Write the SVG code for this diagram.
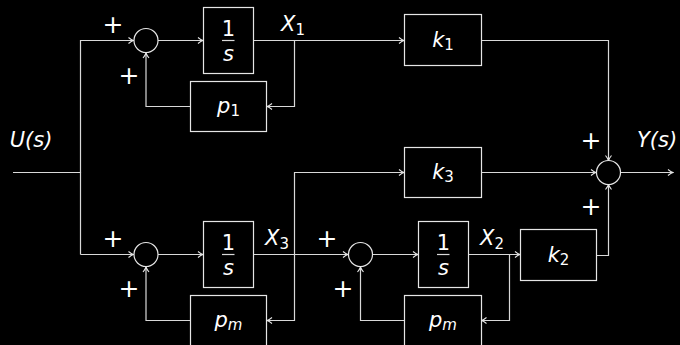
<svg xmlns="http://www.w3.org/2000/svg" width="680" height="345" viewBox="0 0 680 345">
<defs>
<style>
.bg{fill:#000}
.blk{fill:#000;stroke:#e6e6e6;stroke-width:1.2}
.ln{fill:none;stroke:#d9d9d9;stroke-width:1.2}
.t{font-family:"DejaVu Sans",sans-serif;font-size:21px;fill:#fff;font-style:oblique;text-anchor:middle}
.n{font-family:"DejaVu Sans",sans-serif;font-size:21px;fill:#fff;text-anchor:middle}
.pl{font-family:"DejaVu Sans",sans-serif;font-size:25px;fill:#ffffff;text-anchor:middle}
.sub{font-style:normal;font-size:15px}
.subi{font-size:15px}
</style>
<marker id="a" viewBox="-7 -4 8 8" refX="0" refY="0" markerWidth="8" markerHeight="8" markerUnits="userSpaceOnUse" orient="auto">
<path d="M-5,-3 Q-2,-0.6 0,0 Q-2,0.6 -5,3" fill="none" stroke="#e6e6e6" stroke-width="1.1"/>
</marker>
</defs>
<rect class="bg" x="0" y="0" width="680" height="345"/>
<g id="connectors">
<path class="ln" d="M13,172.5 H80.5 V254.5"/>
<path class="ln" marker-end="url(#a)" d="M80.5,172.5 V40.5 H133.5"/>
<path class="ln" marker-end="url(#a)" d="M158,40.5 H203"/>
<path class="ln" marker-end="url(#a)" d="M253.5,40.5 H404"/>
<path class="ln" marker-end="url(#a)" d="M294.5,40.5 V106.5 H267"/>
<path class="ln" marker-end="url(#a)" d="M190.5,106.5 H146 V53"/>
<path class="ln" marker-end="url(#a)" d="M481.5,40.5 H608.5 V160.5"/>
<path class="ln" marker-end="url(#a)" d="M620.5,172.5 H673"/>
<path class="ln" marker-end="url(#a)" d="M294.5,254.5 V172.5 H404"/>
<path class="ln" marker-end="url(#a)" d="M481.5,172.5 H596"/>
<path class="ln" marker-end="url(#a)" d="M80.5,254.5 H133.5"/>
<path class="ln" marker-end="url(#a)" d="M158,254.5 H203"/>
<path class="ln" marker-end="url(#a)" d="M253.5,254.5 H348"/>
<path class="ln" marker-end="url(#a)" d="M294.5,254.5 V320.5 H267"/>
<path class="ln" marker-end="url(#a)" d="M190.5,320.5 H146 V267"/>
<path class="ln" marker-end="url(#a)" d="M372.5,254.5 H418"/>
<path class="ln" marker-end="url(#a)" d="M468.5,254.5 H520"/>
<path class="ln" marker-end="url(#a)" d="M509.5,254.5 V320.5 H481.5"/>
<path class="ln" marker-end="url(#a)" d="M404.5,320.5 H360.5 V267"/>
<path class="ln" marker-end="url(#a)" d="M596.5,255.5 H608.5 V184.5"/>
</g>
<g id="sum1"><circle class="blk" cx="146" cy="40.5" r="12"/></g>
<g id="sum3"><circle class="blk" cx="146" cy="254.5" r="12"/></g>
<g id="sum2"><circle class="blk" cx="360.5" cy="254.5" r="12"/></g>
<g id="sumout"><circle class="blk" cx="608.5" cy="172.5" r="12"/></g>
<g id="int1"><rect class="blk" x="203.5" y="7.5" width="50" height="66"/>
<text class="n" x="228.5" y="36">1</text><line class="ln" x1="222" y1="40.5" x2="234.5" y2="40.5"/><text class="t" x="228.5" y="61">s</text></g>
<g id="int3"><rect class="blk" x="203.5" y="221.5" width="50" height="66"/>
<text class="n" x="228.5" y="250">1</text><line class="ln" x1="222" y1="254.5" x2="234.5" y2="254.5"/><text class="t" x="228.5" y="275">s</text></g>
<g id="int2"><rect class="blk" x="418.5" y="221.5" width="50" height="66"/>
<text class="n" x="443.5" y="250">1</text><line class="ln" x1="437" y1="254.5" x2="449.5" y2="254.5"/><text class="t" x="443.5" y="275">s</text></g>
<g id="p1"><rect class="blk" x="190.5" y="81.5" width="76" height="50"/><text class="t" x="228.5" y="113">p<tspan class="sub" dy="3">1</tspan></text></g>
<g id="pm1"><rect class="blk" x="190.5" y="295.5" width="76" height="60"/><text class="t" x="228.5" y="327">p<tspan class="subi" dy="3">m</tspan></text></g>
<g id="pm2"><rect class="blk" x="404.5" y="295.5" width="77" height="60"/><text class="t" x="443" y="327">p<tspan class="subi" dy="3">m</tspan></text></g>
<g id="k1"><rect class="blk" x="404.5" y="14.5" width="77" height="51"/><text class="t" x="443" y="47">k<tspan class="sub" dy="3">1</tspan></text></g>
<g id="k3"><rect class="blk" x="404.5" y="147.5" width="77" height="50"/><text class="t" x="443" y="179">k<tspan class="sub" dy="3">3</tspan></text></g>
<g id="k2"><rect class="blk" x="520.5" y="229.5" width="76" height="51"/><text class="t" x="558.5" y="262">k<tspan class="sub" dy="3">2</tspan></text></g>
<g id="labels">
<text class="t" x="31" y="147">U(s)</text>
<text class="t" x="657" y="147">Y(s)</text>
<text class="t" x="293" y="31">X<tspan class="sub" dy="4">1</tspan></text>
<text class="t" x="277" y="245">X<tspan class="sub" dy="4">3</tspan></text>
<text class="t" x="492" y="245">X<tspan class="sub" dy="4">2</tspan></text>
<text class="pl" x="113" y="33">+</text>
<text class="pl" x="129" y="84">+</text>
<text class="pl" x="113" y="247">+</text>
<text class="pl" x="129" y="297">+</text>
<text class="pl" x="327" y="247">+</text>
<text class="pl" x="343" y="297">+</text>
<text class="pl" x="591" y="149">+</text>
<text class="pl" x="591" y="215">+</text>
</g>
</svg>
